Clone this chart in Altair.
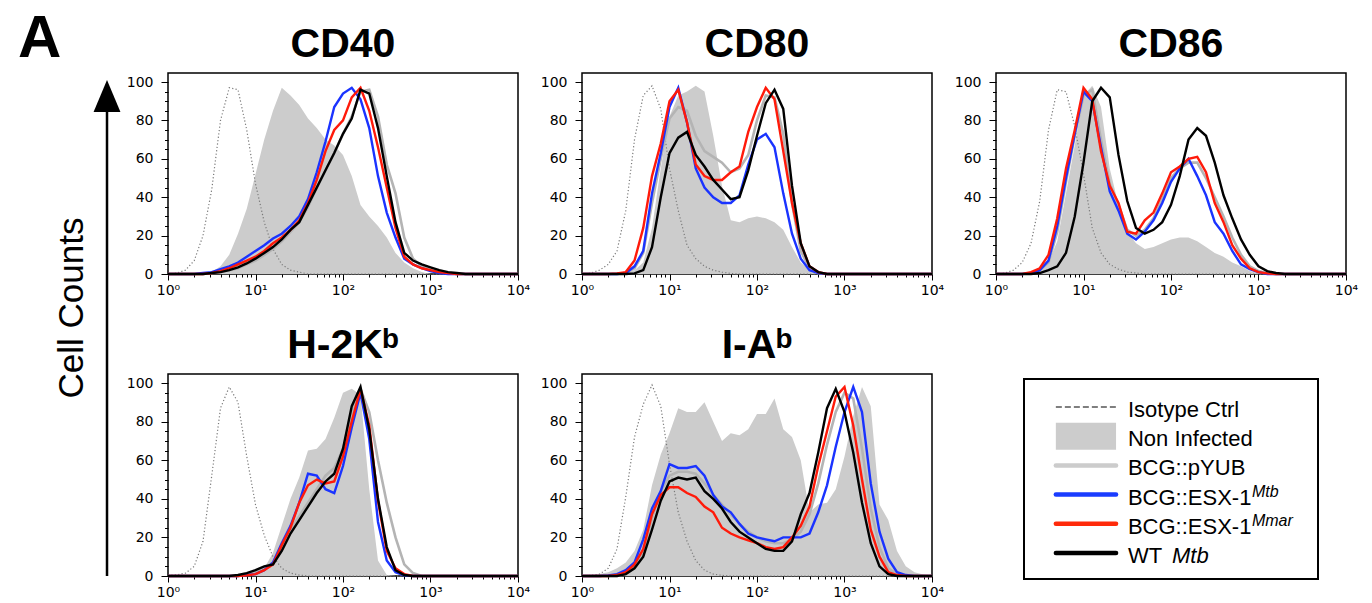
import altair as alt
import pandas as pd

# ---------------- data ----------------
# histogram bins: log10 positions 0.0, 0.1, ..., 4.0
log_bins = [k / 10 for k in range(41)]
x_bins = [10 ** v for v in log_bins]

series_keys = ["iso", "non", "pyub", "mtb", "mmar", "wt"]

cd40_iso = [0, 0.5, 2, 7, 20, 44, 80, 97, 96, 75, 47, 27, 13, 5, 2, 1]
cd40_non = [0, 0, 0, 0, 0, 1, 4, 10, 21, 34, 52, 70, 85, 97, 93, 88, 81, 76, 70, 67, 62, 51, 36, 30, 25, 19, 11, 6, 3, 1]
cd40_pyub = [0, 0, 0, 0, 0, 0.5, 1, 2, 3, 5, 7, 10, 13, 17, 22, 27, 35, 45, 54, 63, 73, 82, 95, 96, 82, 57, 42, 19, 8, 4, 2, 1, 0.5]
cd40_mtb = [0, 0, 0, 0, 0.5, 1, 2.5, 4, 6, 9, 12, 15, 18.5, 21, 25, 30, 39, 53, 69, 87, 94, 97, 91, 76, 51, 32, 19, 8, 5, 3, 1.5, 0.5]
cd40_mmar = [0, 0, 0, 0, 0, 0.5, 1.5, 3, 5, 7, 9, 12, 16, 19, 23, 28, 37, 49, 64, 75, 80, 92, 97, 85, 66, 45, 24, 9, 5, 3, 2, 1, 0.5]
cd40_wt = [0, 0, 0, 0, 0, 0.5, 1, 2, 3.5, 5.5, 8, 11, 14, 18, 23, 27, 36, 45, 54, 63, 73, 81, 96, 94, 76, 51, 27, 11, 7, 5, 3.5, 2, 1, 0.5]

cd80_iso = [0, 0.5, 2, 5, 12, 33, 70, 93, 98, 86, 55, 33, 15, 8, 4, 2, 1, 0.3]
cd80_non = [0, 0, 0, 0, 0, 0.5, 2, 6, 24, 55, 82, 93, 95, 98, 95, 72, 46, 28, 27, 29, 30, 29, 27, 23, 14, 6, 2, 0.5]
cd80_pyub = [0, 0, 0, 0, 0, 0.5, 3, 11, 37, 60, 81, 87, 85, 72, 64, 61, 58, 53, 55, 62, 80, 93, 92, 73, 37, 12, 3, 0.5]
cd80_mtb = [0, 0, 0, 0, 0, 0.5, 4, 12, 42, 63, 87, 97, 79, 55, 45, 40, 37, 37, 41, 57, 70, 73, 66, 42, 21, 8, 2, 0.5]
cd80_mmar = [0, 0, 0, 0, 0.3, 1, 7, 24, 51, 68, 90, 96, 79, 57, 51, 49, 49, 53, 56, 74, 87, 97, 91, 64, 37, 16, 4, 1]
cd80_wt = [0, 0, 0, 0, 0, 0, 0.3, 2, 14, 40, 63, 71, 74, 62, 56, 49, 44, 39, 40, 54, 72, 89, 96, 86, 46, 16, 4, 1]

cd86_iso = [0, 0.5, 2, 6, 16, 38, 75, 96, 95, 77, 52, 24, 11, 5, 2.5, 1, 0.5]
cd86_non = [0, 0, 0, 0, 0.5, 2, 6, 17, 42, 67, 93, 98, 87, 55, 36, 22, 16, 13, 14, 16, 18, 19, 19, 17, 14, 11, 9, 6, 4, 1.5, 0.5]
cd86_pyub = [0, 0, 0, 0, 0.5, 2, 6, 22, 48, 72, 93, 96, 70, 47, 36, 23, 20, 23, 29, 39, 50, 55, 58, 58, 50, 40, 30, 19, 10, 4, 1.5, 0.5]
cd86_mtb = [0, 0, 0, 0, 0.5, 2, 7, 25, 50, 73, 95, 90, 66, 43, 33, 21, 18, 22, 28, 37, 48, 55, 60, 51, 41, 27, 21, 12, 5, 2.5, 1]
cd86_mmar = [0, 0, 0, 0, 1, 3, 10, 29, 55, 75, 97, 91, 64, 46, 37, 22, 21, 28, 32, 42, 53, 56, 60, 61, 53, 37, 27, 15, 8, 3, 1, 0.3]
cd86_wt = [0, 0, 0, 0, 0, 0.5, 2, 4, 11, 30, 58, 90, 97, 92, 62, 38, 24, 21, 23, 27, 36, 51, 70, 76, 72, 58, 41, 29, 18, 10, 4, 1.5, 0.5]

h2kb_iso = [0.3, 0.6, 1.5, 5, 18, 52, 87, 98, 90, 62, 37, 21, 10, 4, 1.5, 0.5]
h2kb_non = [0, 0, 0, 0, 0, 0, 0, 0, 0, 0.5, 1, 4, 12, 26, 40, 51, 65, 66, 71, 82, 95, 97, 94, 45, 8, 0.5]
h2kb_pyub = [0, 0, 0, 0, 0, 0, 0, 0, 0, 1, 2, 4, 7, 15, 24, 31, 38, 45, 52, 56, 66, 84, 97, 85, 60, 38, 20, 6, 1.5]
h2kb_mtb = [0, 0, 0, 0, 0, 0, 0, 0, 0, 0.5, 1, 3, 7, 17, 26, 38, 53, 52, 45, 43, 57, 77, 95, 71, 28, 8, 2, 0.3]
h2kb_mmar = [0, 0, 0, 0, 0, 0, 0, 0, 0, 0.3, 1, 3, 6, 16, 25, 38, 47, 50, 48, 49, 62, 80, 97, 78, 39, 13, 4, 1]
h2kb_wt = [0, 0, 0, 0, 0, 0, 0, 0, 0.5, 1.5, 3, 5, 6, 13, 22, 29, 36, 43, 49, 53, 66, 88, 98, 76, 40, 15, 3, 0.5]

iab_iso = [0, 0.3, 1, 4, 14, 41, 72, 89, 99, 88, 58, 33, 18, 8, 3, 1, 0.3]
iab_non = [0, 0.3, 1, 2, 4, 7, 13, 24, 47, 63, 74, 87, 85, 85, 90, 80, 70, 74, 73, 76, 84, 84, 92, 76, 72, 60, 33, 37, 38, 45, 62, 83, 98, 88, 37, 29, 13, 5, 2, 0.8, 0.3]
iab_pyub = [0, 0, 0, 0, 0, 1, 5, 13, 30, 44, 52, 54, 54, 53, 48, 42, 37, 32, 27, 23, 20, 18, 17, 17, 19, 23, 32, 48, 68, 85, 95, 92, 66, 35, 15, 4, 1]
iab_mtb = [0, 0, 0, 0.3, 1, 3, 7, 19, 35, 44, 58, 56, 56, 57, 52, 42, 36, 33, 27, 22, 20, 19, 18, 20, 20, 20, 22, 33, 47, 67, 85, 98, 85, 48, 23, 9, 2, 0.5]
iab_mmar = [0, 0, 0, 0, 0.5, 2, 6, 14, 32, 42, 46, 46, 43, 41, 36, 33, 25, 22, 20, 18.5, 17, 15, 14, 15, 20, 26, 36, 57, 75, 93, 98, 78, 50, 24, 10, 2, 0.5]
iab_wt = [0, 0, 0, 0, 0, 1, 4, 10, 24, 39, 49, 51, 50, 51, 44, 40, 35, 28, 23, 20, 17, 14, 13, 13, 18, 32, 43, 64, 87, 97, 85, 64, 38, 17, 5, 1]

panel_titles = ["CD40", "CD80", "CD86", "H-2K\u1d47", "I-A\u1d47"]
panel_series = [
    [cd40_iso, cd40_non, cd40_pyub, cd40_mtb, cd40_mmar, cd40_wt],
    [cd80_iso, cd80_non, cd80_pyub, cd80_mtb, cd80_mmar, cd80_wt],
    [cd86_iso, cd86_non, cd86_pyub, cd86_mtb, cd86_mmar, cd86_wt],
    [h2kb_iso, h2kb_non, h2kb_pyub, h2kb_mtb, h2kb_mmar, h2kb_wt],
    [iab_iso, iab_non, iab_pyub, iab_mtb, iab_mmar, iab_wt],
]

x_ticks = [1, 2, 3, 4, 5, 6, 7, 8, 9, 10, 20, 30, 40, 50, 60, 70, 80, 90,
           100, 200, 300, 400, 500, 600, 700, 800, 900,
           1000, 2000, 3000, 4000, 5000, 6000, 7000, 8000, 9000, 10000]
y_ticks = list(range(0, 101, 5))

legend_labels = ["Isotype Ctrl", "Non Infected", "BCG::pYUB", "BCG::ESX-1", "BCG::ESX-1", "WT"]
legend_sups = ["", "", "", "Mtb", "Mmar", ""]
legend_italic = ["", "", "", "", "", "Mtb"]
y_title = "Cell Counts"
panel_letter = "A"

# ---------------- styles ----------------
FILL = "#cccccc"
style = {
    "iso": dict(color="#7a7a7a", strokeWidth=1.2, strokeDash=[1.2, 2.2]),
    "pyub": dict(color="#b4b4b4", strokeWidth=2.6),
    "mtb": dict(color="#1a33ff", strokeWidth=2.4),
    "mmar": dict(color="#ff1a0a", strokeWidth=2.4),
    "wt": dict(color="#000000", strokeWidth=2.4),
}
legend_style = {
    "iso": dict(color="#555555", strokeWidth=1.6, strokeDash=[6, 3]),
    "non": dict(color=FILL, strokeWidth=27, strokeCap="butt"),
    "pyub": dict(color="#cccccc", strokeWidth=4.5, strokeCap="round"),
    "mtb": dict(color="#1a3cff", strokeWidth=4.5, strokeCap="round"),
    "mmar": dict(color="#ff2a0a", strokeWidth=4.5, strokeCap="round"),
    "wt": dict(color="#000000", strokeWidth=4.5, strokeCap="round"),
}

major_x = "indexof([1,10,100,1000,10000], datum.value) >= 0"
x_label_expr = ("datum.value == 1 ? '10\u2070' : datum.value == 10 ? '10\u00b9' : "
                "datum.value == 100 ? '10\u00b2' : datum.value == 1000 ? '10\u00b3' : "
                "datum.value == 10000 ? '10\u2074' : ''")

x_axis = alt.Axis(values=x_ticks, labelExpr=x_label_expr, title="",
                  tickSize={"condition": {"test": major_x, "value": 6}, "value": 3},
                  labelPadding=3, labelFlush=False, labelOverlap=False)
y_axis = alt.Axis(values=y_ticks, labelExpr="datum.value % 20 == 0 ? datum.label : ''", title="",
                  tickSize={"condition": {"test": "datum.value % 20 == 0", "value": 7}, "value": 3.5},
                  labelPadding=8, labelOverlap=False)
x_scale = alt.Scale(type="log", domain=[1, 10000], nice=False)
y_scale = alt.Scale(domain=[0, 104.7], nice=False, zero=True)
unit = alt.Scale(domain=[0, 1], nice=False, zero=False)
no_frame = alt.ViewBackground(stroke="transparent")


def pad(vals):
    return list(vals) + [0] * (len(x_bins) - len(vals))


def panel(title, series, height):
    data = {k: pd.DataFrame({"x": x_bins, "y": pad(v)}) for k, v in zip(series_keys, series)}
    enc = dict(x=alt.X("x:Q", scale=x_scale, axis=x_axis), y=alt.Y("y:Q", scale=y_scale, axis=y_axis))
    layers = [alt.Chart(data["non"]).mark_area(color=FILL, opacity=1).encode(**enc)]
    for key in ["iso", "pyub", "mtb", "mmar", "wt"]:
        layers.append(alt.Chart(data[key]).mark_line(**style[key]).encode(**enc))
    return alt.layer(*layers).properties(
        width=350, height=height,
        title=alt.Title(title, fontSize=41, fontWeight="bold", font="Liberation Sans", color="black",
                        anchor="middle", frame="group", offset=-25, baseline="alphabetic"),
        view=alt.ViewBackground(stroke="black", strokeWidth=1.5),
    )


# ---------------- legend (bottom-right cell) ----------------
leg = pd.DataFrame({"row": list(range(6)), "label": legend_labels, "sup": legend_sups, "ital": legend_italic})
ly = alt.Scale(domain=[-1.130, 5.788], nice=False, zero=False, reverse=True)
lx = dict(scale=unit, axis=None)
leg_layers = [
    alt.Chart(leg.iloc[[0]]).mark_rect(filled=False, stroke="black", strokeWidth=2).encode(
        x=alt.X(datum=0.08, **lx), x2=alt.X2(datum=0.92),
        y=alt.Y(datum=-0.959, scale=ly, axis=None), y2=alt.Y2(datum=5.89))
]
for i, key in enumerate(series_keys):
    leg_layers.append(
        alt.Chart(leg.iloc[[i]]).mark_rule(**legend_style[key]).encode(
            x=alt.X(datum=0.171, **lx), x2=alt.X2(datum=0.343),
            y=alt.Y("row:Q", scale=ly, axis=None))
    )
leg_layers.append(
    alt.Chart(leg).mark_text(align="left", baseline="middle", fontSize=22, font="Liberation Sans",
                             color="black", dy=3).encode(
        x=alt.X(datum=0.377, **lx), y=alt.Y("row:Q", scale=ly, axis=None), text="label:N")
)
leg_layers.append(
    alt.Chart(leg[leg["sup"] != ""]).mark_text(align="left", baseline="middle", fontSize=16, fontStyle="italic",
                                               font="Liberation Sans", color="black", dx=124, dy=-3).encode(
        x=alt.X(datum=0.377, **lx), y=alt.Y("row:Q", scale=ly, axis=None), text="sup:N")
)
leg_layers.append(
    alt.Chart(leg[leg["ital"] != ""]).mark_text(align="left", baseline="middle", fontSize=22, fontStyle="italic",
                                                font="Liberation Sans", color="black", dx=44, dy=3).encode(
        x=alt.X(datum=0.377, **lx), y=alt.Y("row:Q", scale=ly, axis=None), text="ital:N")
)
legend = alt.layer(*leg_layers).properties(width=350, height=202, view=no_frame)

# ---------------- left strip: letter, y title, arrow (top-left cell, drawn beyond it) ----------------
one = pd.DataFrame({"t": [y_title]})
left_top = alt.layer(
    alt.Chart(one).mark_text(angle=270, fontSize=35, font="Liberation Sans", color="black",
                             align="center", baseline="middle").encode(
        x=alt.X(datum=0.628, scale=unit, axis=None), y=alt.Y(datum=-0.169, scale=unit, axis=None), text="t:N"),
    alt.Chart(one).mark_rule(color="black", strokeWidth=2.5).encode(
        x=alt.X(datum=1.035, scale=unit, axis=None), y=alt.Y(datum=-1.502, scale=unit, axis=None),
        y2=alt.Y2(datum=0.876)),
    alt.Chart(one).mark_point(shape="M0,-1L0.84,1L-0.84,1Z", size=1024, filled=True, color="black",
                              opacity=1).encode(
        x=alt.X(datum=1.035, scale=unit, axis=None), y=alt.Y(datum=0.886, scale=unit, axis=None)),
).properties(
    width=86, height=201,
    title=alt.Title(panel_letter, fontSize=60, fontWeight="bold", font="Liberation Sans", color="black",
                    anchor="start", frame="group", offset=-44, baseline="alphabetic"),
    view=no_frame,
)
left_bottom = alt.Chart(pd.DataFrame({"v": [0]})).mark_point(opacity=0).encode(
    x=alt.X("v:Q", axis=None), y=alt.Y("v:Q", axis=None)).properties(width=86, height=202, view=no_frame)

cells = [left_top,
         panel(panel_titles[0], panel_series[0], 201),
         panel(panel_titles[1], panel_series[1], 201),
         panel(panel_titles[2], panel_series[2], 201),
         left_bottom,
         panel(panel_titles[3], panel_series[3], 202),
         panel(panel_titles[4], panel_series[4], 202),
         legend]

chart = alt.concat(*cells, columns=4, spacing={"row": 100, "column": 64}, bounds="flush").properties(
    padding={"left": 9, "top": 0, "right": 5, "bottom": 5}
).configure_axis(
    labelFont="DejaVu Sans", labelFontSize=14, labelColor="black", tickColor="black",
    tickWidth=1, domain=False, grid=False
).configure_view(stroke="black")

chart.save("out.html", embed_options={"renderer": "svg", "actions": False})
